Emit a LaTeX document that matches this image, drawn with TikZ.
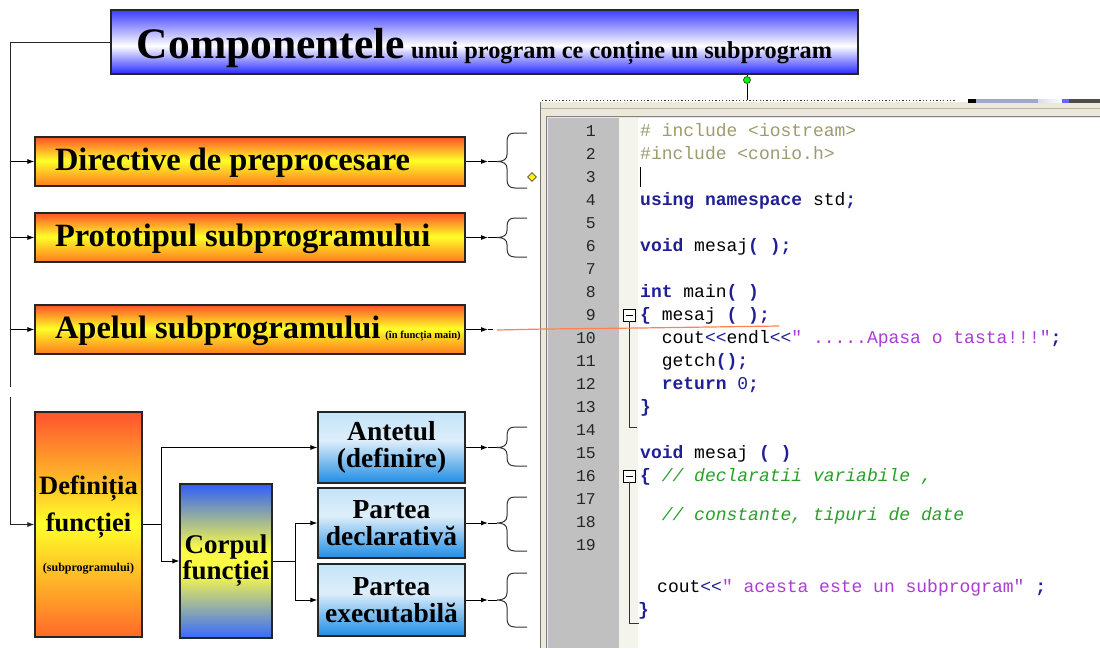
\documentclass[tikz,border=0pt]{standalone}
\usepackage{fontspec}
\setmainfont{Liberation Serif}
\setmonofont{Liberation Mono}
\usetikzlibrary{arrows.meta,shapes.geometric}
\definecolor{otop}{RGB}{255,82,40}
\definecolor{oyel}{RGB}{255,255,40}
\definecolor{obot}{RGB}{255,120,30}
\definecolor{dtop}{RGB}{255,82,45}
\definecolor{dbot}{RGB}{255,105,40}
\definecolor{ctop}{RGB}{45,95,250}
\definecolor{cmid}{RGB}{250,250,70}
\definecolor{cbot}{RGB}{55,105,255}
\definecolor{btop}{RGB}{195,228,248}
\definecolor{bmid}{RGB}{222,238,250}
\definecolor{bbot}{RGB}{30,140,228}
\definecolor{ttop}{RGB}{60,60,255}
\definecolor{tbot}{RGB}{40,40,255}
\definecolor{kw}{RGB}{32,32,150}
\definecolor{pp}{RGB}{156,156,108}
\definecolor{strc}{RGB}{170,60,215}
\definecolor{cmt}{RGB}{40,160,40}
\definecolor{gut}{RGB}{192,192,192}
\definecolor{foldm}{RGB}{244,244,236}
\definecolor{framec}{RGB}{236,233,216}
\definecolor{orline}{RGB}{255,130,80}
\definecolor{barb}{RGB}{160,168,200}
\pgfdeclareverticalshading{orangesh}{100bp}{color(0bp)=(obot); color(25bp)=(obot); color(51bp)=(oyel); color(75bp)=(otop); color(100bp)=(otop)}
\pgfdeclareverticalshading{defsh}{100bp}{color(0bp)=(dbot); color(25bp)=(dbot); color(50bp)=(oyel); color(75bp)=(dtop); color(100bp)=(dtop)}
\pgfdeclareverticalshading{corpsh}{100bp}{color(0bp)=(cbot); color(25bp)=(cbot); color(46bp)=(cmid); color(54bp)=(cmid); color(75bp)=(ctop); color(100bp)=(ctop)}
\pgfdeclareverticalshading{bluesh}{100bp}{color(0bp)=(bbot); color(25bp)=(bbot); color(55bp)=(bmid); color(75bp)=(btop); color(100bp)=(btop)}
\pgfdeclareverticalshading{titlesh}{100bp}{color(0bp)=(tbot); color(25bp)=(tbot); color(47bp)=(white); color(75bp)=(ttop); color(100bp)=(ttop)}
\tikzset{
  box/.style={draw=black!85, line width=1.1pt, inner sep=0pt, align=center, font=\bfseries},
  obox/.style={box, shade, shading=orangesh, minimum width=430pt, minimum height=49pt,
    text height=22pt, text depth=4pt, font=\bfseries\fontsize{32.5}{34}\selectfont},
  bbox/.style={box, shade, shading=bluesh, minimum width=147pt,
    font=\bfseries\fontsize{27.5}{26.5}\selectfont},
  arr/.style={line width=1pt, -{Latex[length=7pt,width=5pt]}},
  conn/.style={line width=1pt},
  code/.style={anchor=base west, inner sep=0pt, font=\ttfamily\fontsize{18}{18}\selectfont},
  lnum/.style={anchor=base east, inner sep=0pt, font=\ttfamily\fontsize{16.5}{16.5}\selectfont, text=black!85},
  bracepath/.style={line width=1pt, black!80}
}
\begin{document}
\begin{tikzpicture}[x=1pt,y=-1pt]
\useasboundingbox (0,0) rectangle (1100,648);
\fill[white] (0,0) rectangle (1100,648);

% ---------- code panel ----------
\fill[framec] (540,102) rectangle (1100,648);
\draw[black!55, line width=1pt] (540.5,102) -- (540.5,648);
\draw[black!30] (541,108.5) -- (1100,108.5);
\draw[black!50, line width=1.5pt] (546,116.5) -- (1100,116.5);
\fill[gut] (548,118) rectangle (619,648);
\draw[black!50, line width=1.5pt] (546.5,117) -- (546.5,648);
\fill[foldm] (619,118) rectangle (638,648);
\fill[white] (638,118) rectangle (1100,648);
\draw[line width=1.2pt, dash pattern=on 1.2pt off 2.2pt, black!80] (542,100.5) -- (955,100.5);
\fill[black] (968,99) rectangle (976,102.5);
\fill[barb] (976,99) rectangle (1038,102.5);
\shade[left color=barb!40, right color=white] (1038,99) rectangle (1062,102.5);
\fill[blue!60] (1062,99) rectangle (1069,102.5);
\fill[black!70] (1069,99) rectangle (1100,102.5);

\foreach \n in {1,...,19} \node[lnum] (ln\n) at (596,{136+23*(\n-1)}) {\n};

\node[code] (c1) at (640,136) {\textcolor{pp}{\# include <iostream>}};
\node[code] (c2) at (640,159) {\textcolor{pp}{\#include <conio.h>}};
\draw[line width=1pt] (640.5,167) -- (640.5,187);
\node[code] (c4) at (640,205) {\textcolor{kw}{\bfseries using namespace} std\textcolor{kw}{\bfseries;}};
\node[code] (c6) at (640,251) {\textcolor{kw}{\bfseries void} mesaj\textcolor{kw}{\bfseries( );}};
\node[code] (c8) at (640,297) {\textcolor{kw}{\bfseries int} main\textcolor{kw}{\bfseries( )}};
\node[code] (c9) at (640,320) {\textcolor{kw}{\bfseries\{} mesaj \textcolor{kw}{\bfseries( );}};
\node[code] (c10) at (661.6,343) {cout\textcolor{kw}{<<}endl\textcolor{kw}{<<}\textcolor{strc}{" .....Apasa o tasta!!!"}\textcolor{kw}{\bfseries;}};
\node[code] (c11) at (661.6,366) {getch\textcolor{kw}{\bfseries();}};
\node[code] (c12) at (661.6,389) {\textcolor{kw}{{\bfseries return} 0\bfseries;}};
\node[code] (c13) at (640,412) {\textcolor{kw}{\bfseries\}}};
\node[code] (c15) at (640,458) {\textcolor{kw}{\bfseries void} mesaj \textcolor{kw}{\bfseries( )}};
\node[code] (c16) at (640,481) {\textcolor{kw}{\bfseries\{} \textcolor{cmt}{\itshape // declaratii variabile ,}};
\node[code] (c18) at (661.6,520) {\textcolor{cmt}{\itshape // constante, tipuri de date}};
\node[code] (c20) at (657,592) {cout\textcolor{kw}{<<}\textcolor{strc}{" acesta este un subprogram"} \textcolor{kw}{\bfseries;}};
\node[code] (c21) at (638,615) {\textcolor{kw}{\bfseries\}}};

% fold markers
\draw[black, fill=white, line width=0.8pt] (623,309) rectangle (635,321);
\draw[black, line width=0.8pt] (625.5,315) -- (632.5,315);
\draw[black, fill=white, line width=0.8pt] (623,470) rectangle (635,482);
\draw[black, line width=0.8pt] (625.5,476) -- (632.5,476);
\draw[black!80, line width=1pt] (629,321) -- (629,427) -- (637,427);
\draw[black!80, line width=1pt] (629,482) -- (629,623) -- (639,623);

% ---------- title ----------
\node[box, shade, shading=titlesh, minimum width=747pt, minimum height=64pt,
  text height=36pt, text depth=4pt] (title) at (484.5,42)
  {{\fontsize{43.5}{44}\selectfont Componentele}\hspace{6pt}{\fontsize{24.3}{25}\selectfont unui program ce conține un subprogram}};
\node[circle, fill=green, draw=black!80, line width=0.6pt, minimum size=7pt, inner sep=0pt] (gdot) at (747,80) {};
\coordinate (gend) at (747,100);
\draw[conn] (title.south -| gdot) -- (gdot) -- (gend);

% ---------- orange boxes ----------
\node[obox] (dir) at (250,161.5) {\makebox[425pt][l]{\hspace*{17.5pt}Directive de preprocesare}};
\node[obox] (proto) at (250,237.5) {\makebox[425pt][l]{\hspace*{17.5pt}Prototipul subprogramului}};
\node[obox] (apel) at (250,329.5) {\makebox[425pt][l]{\hspace*{17.5pt}Apelul subprogramului\hspace{5pt}{\fontsize{10.5}{11}\selectfont(în funcția main)}}};

% ---------- bottom boxes ----------
\node[box, shade, shading=defsh, minimum width=107pt, minimum height=225pt,
  font=\bfseries\fontsize{26.5}{37}\selectfont] (def) at (88.5,524.5)
  {Definiția\\funcției\\[3pt]{\fontsize{12}{12}\selectfont(subprogramului)}};
\node[box, shade, shading=corpsh, minimum width=92pt, minimum height=154pt,
  font=\bfseries\fontsize{27}{26}\selectfont] (corp) at (226,561) {Corpul\\funcției};
\node[bbox, minimum height=71pt] (ant) at (391.5,447.5) {Antetul\\(definire)};
\node[bbox, minimum height=70pt] (decl) at (391.5,523) {Partea\\declarativă};
\node[bbox, minimum height=72pt] (exec) at (391.5,600) {Partea\\executabilă};

% ---------- trunk on the left ----------
\coordinate (tx) at (10.7,0);
\coordinate (t1end) at (10.7,387);
\coordinate (t2start) at (10.7,397);
\draw[conn, black!85] (title.west) -| (t1end);
\draw[arr, black!85] (t2start) |- (def.west);
\draw[arr] (tx |- dir.west) -- (dir.west);
\draw[arr] (tx |- proto.west) -- (proto.west);
\draw[arr] (tx |- apel.west) -- (apel.west);

% ---------- tree connectors ----------
\coordinate (dj) at (161,524.5);
\coordinate (cj) at (295,561);
\draw[conn] (def.east) -- (dj);
\draw[arr] (dj) |- (ant.west);
\draw[arr] (dj) |- (corp.west);
\draw[conn] (corp.east) -- (cj);
\draw[arr] (cj) |- (decl.west);
\draw[arr] (cj) |- (exec.west);

% ---------- arrows to braces ----------
\foreach \b/\yt/\ym/\yb in {dir/133/161.5/188, proto/218/237.5/257, ant/427/447.5/466, decl/497/523/551, exec/573/600/627}{
  \coordinate (ah\b) at (488,\ym);
  \coordinate (bt\b) at (497,\ym);
  \draw[arr] (\b.east) -- (ah\b);
  \draw[conn] (ah\b) -- (bt\b);
  \draw[bracepath] (527,\yt) -- (515,\yt) .. controls (509,\yt) and (507,\yt+3) .. (507,\yt+9)
     -- (507,\ym-7) .. controls (507,\ym-2) and (503,\ym) .. (bt\b)
     .. controls (503,\ym) and (507,\ym+2) .. (507,\ym+7)
     -- (507,\yb-9) .. controls (507,\yb-3) and (509,\yb) .. (515,\yb) -- (527,\yb);
}
\coordinate (ahapel) at (488,329.5);
\coordinate (btapel) at (493,329.5);
\draw[arr] (apel.east) -- (ahapel);
\draw[conn] (ahapel) -- (btapel);
\draw[orline, line width=1.2pt] (497,330) -- (545,329) -- (640,328) -- (779,326);

\node[diamond, fill=yellow, draw=black!70, line width=0.6pt, minimum size=9pt, inner sep=0pt] (dia) at (532,177) {};
\end{tikzpicture}
\end{document}
